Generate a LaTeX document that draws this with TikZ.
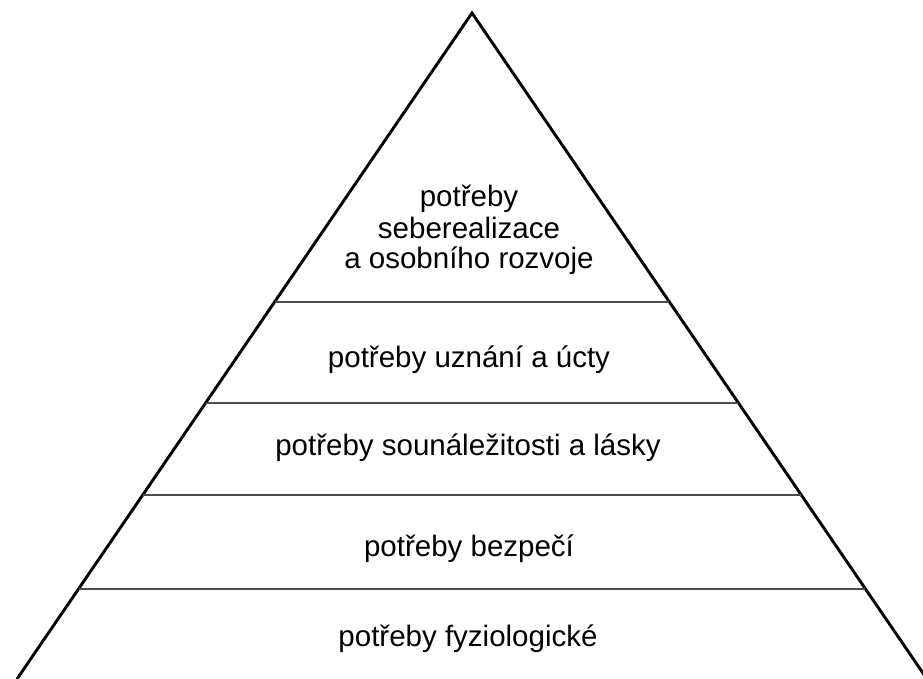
\documentclass[tikz,border=0pt]{standalone}
\usepackage{fontspec}
\setmainfont{Liberation Sans}
\begin{document}
\begin{tikzpicture}[x=1pt,y=-1pt,
  edge/.style={line width=2.9pt,black,line join=miter},
  level/.style={line width=1.4pt,black!70},
  lab/.style={font=\fontsize{29.5}{31}\selectfont,anchor=base,inner sep=0pt,align=center}]
\useasboundingbox (0,0) rectangle (923,679);
\clip (0,0) rectangle (923,679);
\coordinate (apex) at (472,13);
\coordinate (bl) at (17,679);
\coordinate (br) at (927,679);
\draw[edge] (bl) -- (apex) -- (br);
\coordinate (l1) at (274.6,302); \coordinate (r1) at (669.4,302);
\coordinate (l2) at (205.6,403); \coordinate (r2) at (738.4,403);
\coordinate (l3) at (142.8,495); \coordinate (r3) at (801.2,495);
\coordinate (l4) at (78.6,589);  \coordinate (r4) at (865.4,589);
\draw[level] (l1) -- (r1);
\draw[level] (l2) -- (r2);
\draw[level] (l3) -- (r3);
\draw[level] (l4) -- (r4);
\node[lab] (t1a) at (469,207) {potřeby};
\node[lab] (t1b) at (469,238) {seberealizace};
\node[lab] (t1c) at (469,268) {a osobního rozvoje};
\node[lab] (t2) at (469,367) {potřeby uznání a úcty};
\node[lab] (t3) at (468,455) {potřeby sounáležitosti a lásky};
\node[lab] (t4) at (469,556) {potřeby bezpečí};
\node[lab] (t5) at (468,646) {potřeby fyziologické};
\end{tikzpicture}
\end{document}
